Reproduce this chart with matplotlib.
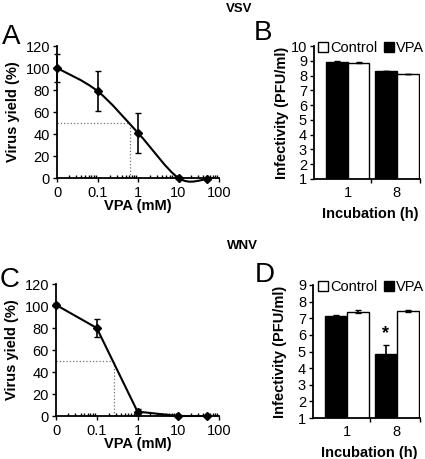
import numpy as np
import matplotlib.pyplot as plt
from matplotlib.lines import Line2D
from matplotlib.path import Path
from matplotlib.patches import PathPatch
from matplotlib.ticker import LogLocator, NullFormatter

plt.rcParams['font.family'] = ['Liberation Sans', 'DejaVu Sans']
plt.rcParams['font.size'] = 10

# dose response data (x=0 is drawn at 0.01 on the log axis)
conc = [0.01, 0.1, 1, 10, 50]
conc_ticks = [0.01, 0.1, 1, 10, 100]
conc_labels = ['0', '0.1', '1', '10', '100']
vsv_yield = [100, 79, 41, 0, -1]
vsv_err = [13, 18, 18, 0, 0]
vsv_ic50 = 0.62
wnv_yield = [101, 80, 4, 0, 0]
wnv_err = [2, 8, 2, 0, 0]
wnv_ic50 = 0.26

# infectivity (log PFU/ml)
incub = ['1', '8']
vsv_vpa = [8.95, 8.33]
vsv_vpa_err = [0.03, 0.0]
vsv_ctrl = [8.87, 8.12]
vsv_ctrl_err = [0.03, 0.0]
wnv_vpa = [7.15, 4.85]
wnv_vpa_err = [0.03, 0.55]
wnv_ctrl = [7.40, 7.42]
wnv_ctrl_err = [0.07, 0.07]

W, H = 425, 459
fig = plt.figure(figsize=(W / 100, H / 100), dpi=100)


def box(l, t, r, b):
    return [l / W, 1 - b / H, (r - l) / W, (b - t) / H]


def smooth_path(x, y):
    # bezier path through the points (catmull-rom handles in log-x space)
    lx = np.log10(x)
    y = np.asarray(y, float)
    n = len(lx)
    verts = [(x[0], y[0])]
    codes = [Path.MOVETO]
    for i in range(n - 1):
        p0 = max(i - 1, 0)
        p3 = min(i + 2, n - 1)
        c1 = (lx[i] + (lx[i + 1] - lx[p0]) / 6, y[i] + (y[i + 1] - y[p0]) / 6)
        c2 = (lx[i + 1] - (lx[p3] - lx[i]) / 6, y[i + 1] - (y[p3] - y[i]) / 6)
        verts += [(10 ** c1[0], c1[1]), (10 ** c2[0], c2[1]), (x[i + 1], y[i + 1])]
        codes += [Path.CURVE4] * 3
    return Path(verts, codes)


def dose_panel(ax, y, e, ic50, smooth):
    ax.set_xscale('log')
    ax.set_xlim(0.01, 100)
    ax.set_ylim(0, 120)
    ax.plot([0.01, ic50], [50, 50], ls=':', color='0.45', lw=0.9)
    ax.plot([ic50, ic50], [0, 50], ls=':', color='0.45', lw=0.9)
    if smooth:
        ax.add_patch(PathPatch(smooth_path(conc, y), fc='none', ec='black',
                               lw=1.5, clip_on=False, zorder=4))
        ls = 'none'
    else:
        ls = '-'
    ax.errorbar(conc, y, yerr=e, color='black', lw=1.5, ls=ls, marker='D',
                ms=4.5, capsize=2, elinewidth=1.2, clip_on=False, zorder=5)
    ax.set_xticks(conc_ticks)
    ax.set_xticklabels(conc_labels)
    ax.xaxis.set_minor_locator(LogLocator(base=10, subs=np.arange(2, 10), numticks=20))
    ax.xaxis.set_minor_formatter(NullFormatter())
    ax.tick_params(axis='x', which='minor', direction='in', length=2.5, width=1)
    ax.tick_params(axis='x', which='major', direction='out', length=3, width=1, pad=3)
    ax.set_yticks(range(0, 121, 20))
    ax.tick_params(axis='y', direction='out', length=3, width=1, pad=2)
    ax.tick_params(labelsize=10.5)
    for s in ['top', 'right']:
        ax.spines[s].set_visible(False)
    for s in ['left', 'bottom']:
        ax.spines[s].set_linewidth(1.3)
    ax.set_ylabel('Virus yield (%)', fontweight='bold', fontsize=10.5)
    ax.yaxis.set_label_coords(-0.23, 0.5)
    ax.set_xlabel('VPA (mM)', fontweight='bold', fontsize=10.5)
    ax.xaxis.set_label_coords(0.5, -0.16)


def bar_panel(ax, vpa, vpa_e, ctrl, ctrl_e, ymax):
    x = np.arange(len(incub))
    w = 0.44
    ax.bar(x - w / 2, vpa, w, color='black', edgecolor='black', lw=1,
           yerr=vpa_e, error_kw=dict(ecolor='black', capsize=2, lw=1.2))
    ax.bar(x + w / 2, ctrl, w, color='white', edgecolor='black', lw=1,
           yerr=ctrl_e, error_kw=dict(ecolor='black', capsize=2, lw=1.2))
    ax.set_xlim(-0.69, 1.47)
    ax.set_ylim(1, ymax)
    ax.set_yticks(range(1, ymax + 1))
    ax.set_xticks(x)
    ax.set_xticklabels(incub)
    ax.tick_params(axis='x', which='major', length=0, pad=5)
    ax.set_xticks([0.47, 1.47], minor=True)
    ax.tick_params(axis='x', which='minor', direction='out', length=3, width=1)
    ax.tick_params(axis='y', direction='out', length=3, width=1, pad=2)
    ax.tick_params(labelsize=10.5)
    for s in ['top', 'right']:
        ax.spines[s].set_visible(False)
    for s in ['left', 'bottom']:
        ax.spines[s].set_linewidth(1.3)
    ax.set_ylabel('Infectivity (PFU/ml)', fontweight='bold', fontsize=10.5)
    ax.yaxis.set_label_coords(-0.24, 0.5)
    ax.set_xlabel('Incubation (h)', fontweight='bold', fontsize=10.5)
    ax.xaxis.set_label_coords(0.53, -0.21)
    h = [Line2D([], [], ls='', marker='s', ms=7, mfc='white', mec='black', mew=1),
         Line2D([], [], ls='', marker='s', ms=7, mfc='black', mec='black', mew=1)]
    ax.legend(h, ['Control', 'VPA'], ncol=2, frameon=False, loc='upper right',
              bbox_to_anchor=(1.04, 1.04), handlelength=0.7, handletextpad=0.15,
              columnspacing=0.4, borderaxespad=0, borderpad=0, fontsize=10.5)


axA = fig.add_axes(box(57, 46, 219, 178))
dose_panel(axA, vsv_yield, vsv_err, vsv_ic50, True)

axB = fig.add_axes(box(314, 46, 420, 179))
bar_panel(axB, vsv_vpa, vsv_vpa_err, vsv_ctrl, vsv_ctrl_err, 10)

axC = fig.add_axes(box(56, 284, 219, 416))
dose_panel(axC, wnv_yield, wnv_err, wnv_ic50, False)

axD = fig.add_axes(box(313, 285, 420, 418))
bar_panel(axD, wnv_vpa, wnv_vpa_err, wnv_ctrl, wnv_ctrl_err, 9)
axD.text(1 - 0.22, wnv_vpa[1] + wnv_vpa_err[1] + 0.15, '*', ha='center',
         va='bottom', fontsize=13, fontweight='bold')

fig.text(239 / W, 1 - 9 / H, 'VSV', ha='center', va='center', fontsize=9.5, fontweight='bold')
fig.text(242 / W, 1 - 246 / H, 'WNV', ha='center', va='center', fontsize=9.5, fontweight='bold')
for lab, xx, yy in [('A', 11, 37), ('B', 263, 33), ('C', 10, 280), ('D', 265, 275)]:
    fig.text(xx / W, 1 - yy / H, lab, ha='center', va='center', fontsize=20)

fig.savefig('out.png', dpi=100)
